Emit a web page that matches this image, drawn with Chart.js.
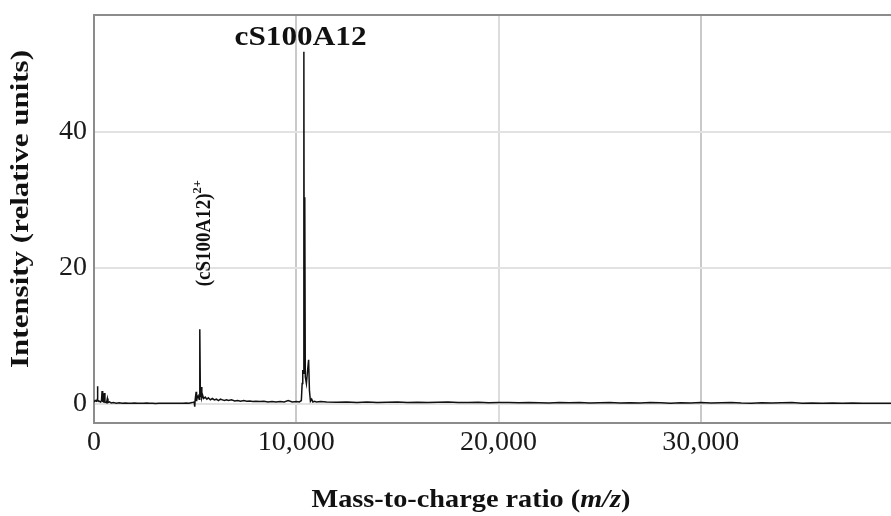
<!DOCTYPE html>
<html>
<head>
<meta charset="utf-8">
<script src="https://cdn.jsdelivr.net/npm/chart.js@4.4.0/dist/chart.umd.min.js"></script>
<style>
html,body{margin:0;padding:0;background:#fff;}
canvas{display:block;}
</style>
</head>
<body>
<canvas id="c" width="891" height="516"></canvas>
<script>
// ---- Data ----
const mzValues = [
  0, 60, 120, 150, 170, 190, 260, 330, 370, 400, 430, 480, 510, 540, 620, 660, 690, 760, 850, 950,
  1100, 1250, 1400, 1550, 1700, 1850, 2000, 2150, 2300, 2450, 2600, 2750, 2900, 3050, 3200, 3350,
  3500, 3650, 3800, 3950, 4100, 4250, 4400, 4550, 4700, 4850, 4950, 4980, 5000, 5050, 5070, 5100,
  5150, 5200, 5230, 5260, 5300, 5330, 5370, 5420, 5500, 5580, 5650, 5750, 5850, 5950, 6050, 6150,
  6250, 6350, 6450, 6550, 6650, 6800, 6950, 7100, 7250, 7400, 7550, 7700, 7850, 8000, 8200, 8400,
  8600, 8800, 9000, 9200, 9400, 9600, 9800, 10000, 10150, 10250, 10290, 10320, 10350, 10375, 10395,
  10420, 10445, 10500, 10560, 10610, 10650, 10700, 10760, 10820, 10900, 11000, 11200, 11500, 12000,
  12500, 13000, 13500, 14000, 14500, 15000, 15500, 16000, 16500, 17000, 17500, 18000, 18500, 19000,
  19500, 20000, 20500, 21000, 21500, 22000, 22500, 23000, 23500, 24000, 24500, 25000, 25500, 26000,
  26500, 27000, 27500, 28000, 28500, 29000, 29500, 30000, 30500, 31000, 31500, 32000, 32500, 33000,
  33500, 34000, 34500, 35000, 35500, 36000, 36500, 37000, 37500, 38000, 38500, 39000, 39400
];
const intensityValues = [
  0.3, 0.5, 0.4, 0.6, 2.6, 0.5, 0.4, 0.3, 0.5, 1.9, 0.4, 0.3, 1.6, 0.3, 0.2, 0.8, 0.2, 0.3, 0.15, 0.2,
  0.12, 0.18, 0.1, 0.15, 0.12, 0.1, 0.14, 0.1, 0.12, 0.09, 0.13, 0.1, 0.12, 0.08, 0.11, 0.1,
  0.12, 0.09, 0.11, 0.1, 0.12, 0.1, 0.11, 0.13, 0.12, 0.2, 0.3, -0.4, 0.6, 1.8, 0.4, 0.9,
  1.2, 0.7, 11.0, 1.0, 2.5, 0.9, 1.3, 0.8, 1.0, 0.7, 0.9, 0.6, 0.8, 0.6, 0.7, 0.5,
  0.7, 0.6, 0.5, 0.6, 0.5, 0.6, 0.45, 0.5, 0.4, 0.5, 0.4, 0.45, 0.35, 0.4, 0.35, 0.4,
  0.3, 0.35, 0.3, 0.35, 0.3, 0.5, 0.3, 0.35, 0.3, 0.5, 3.0, 5.0, 4.5, 51.8, 5.0,
  30.4, 4.0, 3.0, 5.0, 6.5, 2.0, 0.4, 0.7, 0.3, 0.4, 0.3, 0.35, 0.3, 0.25,
  0.3, 0.22, 0.28, 0.2, 0.25, 0.3, 0.22, 0.26, 0.2, 0.24, 0.3, 0.2, 0.22, 0.26,
  0.18, 0.22, 0.2, 0.16, 0.22, 0.18, 0.15, 0.2, 0.16, 0.22, 0.14, 0.18, 0.2, 0.15,
  0.18, 0.14, 0.2, 0.16, 0.12, 0.18, 0.15, 0.2, 0.14, 0.17, 0.22, 0.15, 0.12, 0.18,
  0.14, 0.16, 0.2, 0.12, 0.15, 0.1, 0.14, 0.12, 0.15, 0.1, 0.12, 0.1, 0.12
];
const xTickValues = [0, 10000, 20000, 30000];
const yTickValues = [0, 20, 40];
const xRange = [0, 39400];
const yRange = [-2.8, 57.2];
const xAxisTitle = ['Mass-to-charge ratio (', 'm/z', ')'];
const yAxisTitle = 'Intensity (relative units)';
const mainPeakLabel = 'cS100A12';
const chargedPeakLabel = ['(cS100A12)', '2+'];

// ---- Chart ----
const SERIF = '"Liberation Serif", "Times New Roman", serif';

function fmtThousands(v) {
  return String(v).replace(/\B(?=(\d{3})+(?!\d))/g, ',');
}

// draw a run of text pieces, stretched along the text direction to a given length
function drawRun(ctx, pieces, x, y, angle, targetLen, align) {
  ctx.save();
  ctx.translate(x, y);
  ctx.rotate(angle);
  let total = 0;
  const widths = pieces.map(p => { ctx.font = p.font; const w = ctx.measureText(p.text).width; total += w; return w; });
  const s = targetLen ? targetLen / total : 1;
  ctx.scale(s, 1);
  let cx = align === 'center' ? -total / 2 : 0;
  ctx.textBaseline = 'alphabetic';
  ctx.textAlign = 'left';
  pieces.forEach((p, i) => {
    ctx.font = p.font;
    ctx.fillStyle = '#111';
    ctx.fillText(p.text, cx, p.dy || 0);
    cx += widths[i];
  });
  ctx.restore();
}

const textPlugin = {
  id: 'texts',
  afterDraw(chart) {
    const ctx = chart.ctx;
    const a = chart.chartArea;
    const xs = chart.scales.x, ys = chart.scales.y;
    // top frame line
    ctx.save();
    ctx.strokeStyle = '#8c8c8c';
    ctx.lineWidth = 2;
    ctx.beginPath();
    ctx.moveTo(a.left - 1, a.top);
    ctx.lineTo(a.right, a.top);
    ctx.stroke();
    ctx.restore();

    // y axis title (rotated)
    drawRun(ctx, [{text: yAxisTitle, font: 'bold 25px ' + SERIF}], 28, (a.top + a.bottom) / 2 - 10, -Math.PI / 2, 318, 'center');

    // x axis title with italic m/z
    drawRun(ctx, [
      {text: xAxisTitle[0], font: 'bold 26px ' + SERIF},
      {text: xAxisTitle[1], font: 'italic bold 26px ' + SERIF},
      {text: xAxisTitle[2], font: 'bold 26px ' + SERIF}
    ], 471, 507, 0, 319, 'center');

    // main peak label
    drawRun(ctx, [{text: mainPeakLabel, font: 'bold 27px ' + SERIF}],
      xs.getPixelForValue(10210), ys.getPixelForValue(52.8), 0, 132, 'center');

    // doubly charged peak label (rotated)
    drawRun(ctx, [
      {text: chargedPeakLabel[0], font: 'bold 20px ' + SERIF},
      {text: chargedPeakLabel[1], font: 'bold 13px ' + SERIF, dy: -9}
    ], xs.getPixelForValue(5740), ys.getPixelForValue(17.3), -Math.PI / 2, 106, 'left');
  }
};

new Chart(document.getElementById('c'), {
  type: 'line',
  data: {
    datasets: [{
      data: mzValues.map((m, i) => ({x: m, y: intensityValues[i]})),
      borderColor: '#111',
      borderWidth: 1.5,
      pointRadius: 0,
      tension: 0,
      fill: false
    }]
  },
  options: {
    responsive: false,
    animation: false,
    devicePixelRatio: 1,
    layout: {padding: {top: 15, right: 0, bottom: 0, left: 0}},
    plugins: {legend: {display: false}, tooltip: {enabled: false}},
    scales: {
      x: {
        type: 'linear',
        min: xRange[0],
        max: xRange[1],
        afterBuildTicks: s => { s.ticks = xTickValues.map(v => ({value: v})); },
        afterFit: s => { s.height = 93; s.paddingLeft = 0; s.paddingRight = 0; },
        ticks: {
          font: {family: SERIF, size: 28},
          color: '#1a1a1a',
          padding: 3,
          maxRotation: 0,
          autoSkip: false,
          callback: v => fmtThousands(v)
        },
        grid: {
          color: c => (c.tick && c.tick.value === 20000) ? '#dcdcdc' : '#c9c9c9',
          lineWidth: 2,
          drawTicks: false
        },
        border: {display: true, color: '#8c8c8c', width: 2}
      },
      y: {
        min: yRange[0],
        max: yRange[1],
        afterBuildTicks: s => { s.ticks = yTickValues.map(v => ({value: v})); },
        afterFit: s => { s.width = 94; s.paddingTop = 0; s.paddingBottom = 0; },
        ticks: {
          font: {family: SERIF, size: 28},
          color: '#1a1a1a',
          padding: 7,
          autoSkip: false
        },
        grid: {color: '#e2e2e2', lineWidth: 2, drawTicks: false},
        border: {display: true, color: '#8c8c8c', width: 2}
      }
    }
  },
  plugins: [textPlugin]
});
</script>
</body>
</html>
